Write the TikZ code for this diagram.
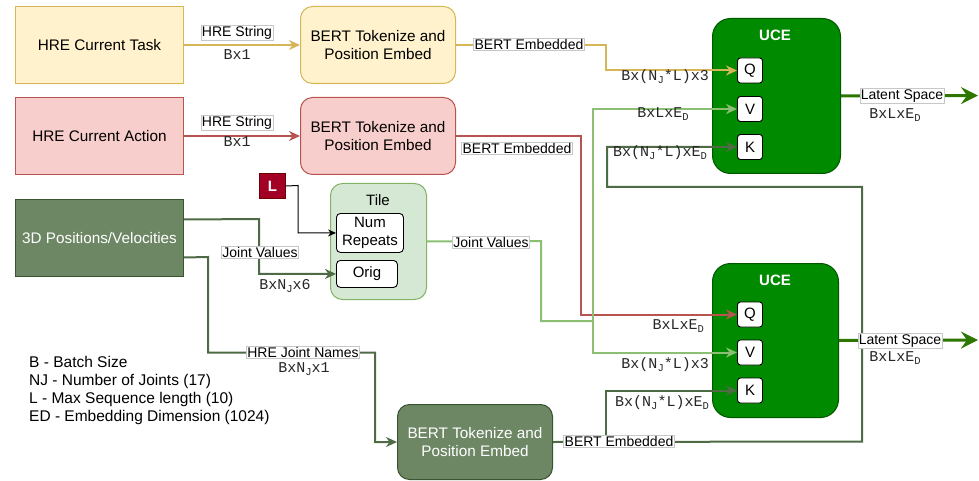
\documentclass[tikz,border=0pt]{standalone}
\usepackage{fontspec}
\setmainfont{Liberation Sans}
\setmonofont{Liberation Mono}
\usetikzlibrary{arrows.meta}

\definecolor{taskfill}{HTML}{FFF2CC}
\definecolor{taskline}{HTML}{D6B656}
\definecolor{actfill}{HTML}{F8CECC}
\definecolor{actline}{HTML}{B85450}
\definecolor{posfill}{HTML}{6D8764}
\definecolor{posline}{HTML}{3A5431}
\definecolor{posedge}{HTML}{4F6B45}
\definecolor{tilefill}{HTML}{D5E8D4}
\definecolor{tileline}{HTML}{82B366}
\definecolor{tileedge}{HTML}{8CBF73}
\definecolor{ucefill}{HTML}{008A00}
\definecolor{uceline}{HTML}{005700}
\definecolor{lfill}{HTML}{A20025}
\definecolor{lline}{HTML}{6F0000}
\definecolor{latentc}{HTML}{2D7600}

% small lowered index for the tensor shapes
\newcommand\lowidx[1]{\raisebox{-3pt}{\fontsize{10.5}{10.5}\selectfont #1}}

\begin{document}
\begin{tikzpicture}[x=1pt,y=-1pt,
  box/.style={draw, line width=1pt, align=center, inner sep=0pt, anchor=north west,
    font=\fontsize{15.3}{18}\selectfont},
  rbox/.style={box, rounded corners=12pt},
  port/.style={draw=black, fill=white, line width=0.9pt, rounded corners=3pt,
    minimum width=25pt, minimum height=25pt, inner sep=0pt, anchor=center,
    font=\fontsize{15}{16}\selectfont},
  inbox/.style={draw=black, fill=white, line width=0.9pt, rounded corners=4pt,
    inner sep=0pt, anchor=north west, align=center, font=\fontsize{15}{18}\selectfont},
  title/.style={anchor=north, inner sep=0pt, font=\fontsize{15}{16}\selectfont},
  elabel/.style={fill=white, draw=black!22, line width=0.4pt, inner sep=1pt,
    font=\fontsize{14}{15}\selectfont},
  dims/.style={inner sep=0pt, font=\ttfamily\fontsize{15}{16}\selectfont, text=black!85},
  flow/.style={line width=2pt, -{Stealth[length=11pt,width=10pt,inset=3.5pt]}},
  latent/.style={line width=3pt, draw=latentc, color=latentc, -{Stealth[length=17pt,width=17pt,inset=6pt]}},
]
\useasboundingbox (0,0) rectangle (979,481);

% ---- inputs ----
\node[box, fill=taskfill, draw=taskline, minimum width=168pt, minimum height=77pt] (task) at (15,6) {HRE Current Task};
\node[box, fill=actfill, draw=actline, minimum width=168pt, minimum height=77pt] (action) at (15,97) {HRE Current Action};
\node[box, fill=posfill, draw=posline, text=white, minimum width=168pt, minimum height=77pt] (pos) at (15,199) {3D Positions/Velocities};

% ---- BERT encoders ----
\node[rbox, fill=taskfill, draw=taskline, minimum width=155pt, minimum height=77pt] (bert1) at (300,6) {BERT Tokenize and\\Position Embed};
\node[rbox, fill=actfill, draw=actline, minimum width=155pt, minimum height=77pt] (bert2) at (300,97) {BERT Tokenize and\\Position Embed};
\node[rbox, fill=posfill, draw=posline, text=white, minimum width=155pt, minimum height=75pt] (bert3) at (397,404) {BERT Tokenize and\\Position Embed};

% ---- tile block ----
\node[rbox, fill=tilefill, draw=tileline, minimum width=96pt, minimum height=116pt] (tile) at (330,183) {};
\node[title] (tiletitle) at (378,194) {Tile};
\node[inbox, minimum width=67pt, minimum height=39pt] (numrep) at (336,213) {Num\\Repeats};
\node[inbox, minimum width=61pt, minimum height=27pt] (orig) at (336,260) {Orig};
\node[box, fill=lfill, draw=lline, text=white, minimum width=26pt, minimum height=25pt, font=\bfseries\fontsize{15}{16}\selectfont] (lbox) at (259,173) {L};

% ---- UCE blocks ----
\node[box, fill=ucefill, draw=uceline, rounded corners=18pt, minimum width=128pt, minimum height=155pt] (uce1) at (712,18) {};
\node[title, text=white, font=\bfseries\fontsize{15}{16}\selectfont] (uce1title) at (775,30) {UCE};
\node[port] (q1) at (750,70.5) {Q};
\node[port] (v1) at (750,109) {V};
\node[port] (k1) at (750,147) {K};

\node[box, fill=ucefill, draw=uceline, rounded corners=18pt, minimum width=126pt, minimum height=154pt] (uce2) at (712,263) {};
\node[title, text=white, font=\bfseries\fontsize{15}{16}\selectfont] (uce2title) at (775,275) {UCE};
\node[port] (q2) at (750,314.5) {Q};
\node[port] (v2) at (750,352.5) {V};
\node[port] (k2) at (750,390.5) {K};

% ---- connectors ----
\draw[flow, draw=taskline, color=taskline] (task.east) -- (bert1.west);
\draw[flow, draw=actline, color=actline] (action.east) -- (bert2.west);

\draw[flow, draw=taskline, color=taskline] (bert1.east) -- ++(150,0) |- (q1.west);
\draw[flow, draw=actline, color=actline] (bert2.east) -- ++(125,0) |- (q2.west);

\coordinate (vsplit) at (593,321);
\draw[line width=2pt, draw=tileedge] (tile.east) -- (541,241) |- (vsplit);
\draw[flow, draw=tileedge, color=tileedge] (vsplit) |- (v1.west);
\draw[flow, draw=tileedge, color=tileedge] (vsplit) |- (v2.west);

\coordinate (ksplit) at (606,441.5);
\draw[flow, draw=posedge, color=posedge] (bert3.east) -- (862,441.5) |- (607,187) |- (k1.west);
\draw[flow, draw=posedge, color=posedge] (ksplit) |- (k2.west);

\draw[flow, draw=posedge, color=posedge] ([yshift=18.5pt]pos.east) -- (259,219) |- (orig.west);
\draw[flow, draw=posedge, color=posedge] ([yshift=-19.5pt]pos.east) -- (208,257) |- (375,352.5) |- (bert3.west);

\draw[line width=1pt, -{Stealth[length=8pt,width=7pt]}] (lbox.east) -- (298,185.5) |- (numrep.west);

\draw[latent] (uce1.east) -- (978,95.5);
\draw[latent] (uce2.east) -- (978,340);

% ---- connector labels ----
\node[elabel] (l1) at (237,33) {HRE String};
\node[dims] (d1) at (237,55) {Bx1};
\node[elabel] (l2) at (237,123) {HRE String};
\node[dims] (d2) at (237,142) {Bx1};
\node[elabel] (l3) at (529,44.5) {BERT Embedded};
\node[elabel] (l4) at (517,148) {BERT Embedded};
\node[elabel] (l5) at (491,242) {Joint Values};
\node[elabel] (l6) at (260,252) {Joint Values};
\node[dims] (d6) at (285,286) {BxN\lowidx{J}x6};
\node[elabel] (l7) at (303,352.5) {HRE Joint Names};
\node[dims] (d7) at (304,369) {BxN\lowidx{J}x1};
\node[elabel] (l8) at (619,441.5) {BERT Embedded};

\node[dims, anchor=east] (dq1) at (709,77) {Bx(N\lowidx{J}*L)x3};
\node[dims] (dv1) at (663,114) {BxLxE\lowidx{D}};
\node[dims, anchor=east] (dk1) at (707,153) {Bx(N\lowidx{J}*L)xE\lowidx{D}};
\node[dims, anchor=east] (dq2) at (704,326) {BxLxE\lowidx{D}};
\node[dims, anchor=east] (dv2) at (709,365) {Bx(N\lowidx{J}*L)x3};
\node[dims, anchor=east] (dk2) at (709,403) {Bx(N\lowidx{J}*L)xE\lowidx{D}};

\node[elabel] (lat1) at (902,96) {Latent Space};
\node[dims] (dl1) at (895,115) {BxLxE\lowidx{D}};
\node[elabel] (lat2) at (900,341) {Latent Space};
\node[dims] (dl2) at (895,358) {BxLxE\lowidx{D}};

% ---- legend ----
\node[anchor=north west, inner sep=0pt, align=left, font=\fontsize{15.5}{18}\selectfont] (legend) at (29,356)
  {B - Batch Size\\NJ - Number of Joints (17)\\L - Max Sequence length (10)\\ED - Embedding Dimension (1024)};
\end{tikzpicture}
\end{document}
